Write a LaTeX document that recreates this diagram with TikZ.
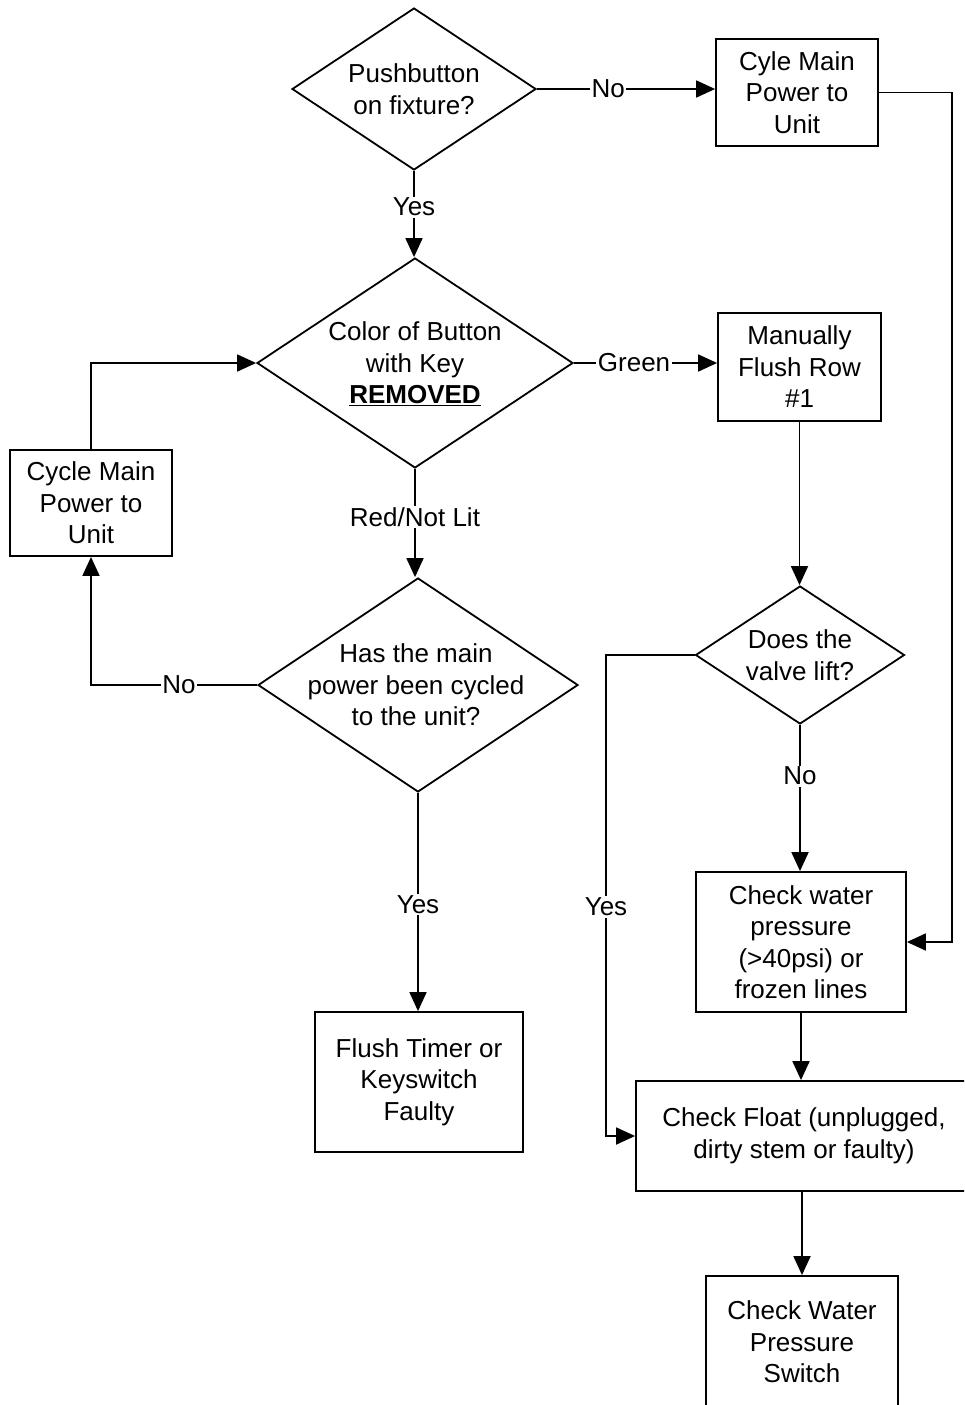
\documentclass[tikz,border=0pt]{standalone}
\usepackage{fontspec}
\setmainfont{Liberation Sans}
\usetikzlibrary{shapes.geometric,arrows.meta}
\tikzset{
  every node/.style={font=\fontsize{26}{31.5}\selectfont},
  boxnode/.style={draw, line width=1.8pt, inner sep=0pt, align=center},
  decision/.style={draw, diamond, line width=1.8pt, inner sep=0pt},
  txt/.style={align=center, inner sep=0pt},
  arr/.style={line width=1.8pt, -{Triangle[length=19pt,width=17pt]}},
  lbl/.style={fill=white, inner sep=1.5pt}
}
\begin{document}
\begin{tikzpicture}[x=1pt,y=-1pt]
\useasboundingbox (0,0) rectangle (964,1405);
\clip (0,0) rectangle (964,1405);
\fill[white] (0,0) rectangle (964,1405);

% decisions
\node[decision, minimum width=244pt, minimum height=162pt] (d1) at (414,89) {};
\node[txt] (d1t) at (d1) {Pushbutton\\on fixture?};
\node[decision, minimum width=316pt, minimum height=210pt] (d2) at (415,363) {};
\node[txt] (d2t) at (415,364) {Color of Button\\with Key\\\underline{\textbf{REMOVED}}};
\node[decision, minimum width=209pt, minimum height=138pt] (d3) at (800,655) {};
\node[txt] (d3t) at (800,655) {Does the\\valve lift?};
\node[decision, minimum width=320pt, minimum height=214pt] (d4) at (418,685) {};
\node[txt] (d4t) at (416,685) {Has the main\\power been cycled\\to the unit?};

% boxes
\node[boxnode, minimum width=162pt, minimum height=107pt] (cyle) at (797,92.5) {Cyle Main\\Power to\\Unit};
\node[boxnode, minimum width=163pt, minimum height=108pt] (manual) at (799.5,367) {Manually\\Flush Row\\\#1};
\node[boxnode, minimum width=162pt, minimum height=106pt] (cycle) at (91,503) {Cycle Main\\Power to\\Unit};
\node[boxnode, minimum width=208pt, minimum height=140pt] (flush) at (419,1082) {Flush Timer or\\Keyswitch\\Faulty};
\node[boxnode, minimum width=210pt, minimum height=140pt] (cwater) at (801,942) {Check water\\pressure\\(>40psi) or\\frozen lines};
\node[boxnode, minimum width=336pt, minimum height=110pt] (cfloat) at (804,1136) {Check Float (unplugged,\\dirty stem or faulty)};
\node[boxnode, minimum width=192pt, minimum height=132pt] (cwps) at (802,1342) {Check Water\\Pressure\\Switch};

\coordinate (rt) at (952,92.5);
\coordinate (yc) at (606,655);

% connectors
\draw[arr] (d1.east) -- node[lbl, pos=0.4] {No} (d1.east -| cyle.west);
\draw[arr] (cyle.east) -- (rt) |- (cwater.east);
\draw[arr] (d1.south) -- node[lbl, pos=0.42] {Yes} (d1.south |- d2.north);
\draw[arr] (d2.east) -- node[lbl, pos=0.42] {Green} (d2.east -| manual.west);
\draw[arr] (manual.south) -- (manual.south |- d3.north);
\draw[arr] (d3.south) -- node[lbl, pos=0.35] {No} (d3.south |- cwater.north);
\draw[arr] (d3.west) -- (yc) |- node[lbl, pos=0.262] {Yes} (cfloat.west);
\draw[arr] (cwater.south) -- (cwater.south |- cfloat.north);
\draw[arr] (cfloat.south -| cwps.north) -- (cwps.north);
\draw[arr] (d2.south) -- node[lbl, pos=0.445] {Red/Not Lit} (d2.south |- d4.north);
\draw[arr] (d4.west) -| node[lbl, pos=0.235] {No} (cycle.south);
\draw[arr] (cycle.north) |- (d2.west);
\draw[arr] (d4.south) -- node[lbl, pos=0.51] {Yes} (d4.south |- flush.north);
\end{tikzpicture}
\end{document}
